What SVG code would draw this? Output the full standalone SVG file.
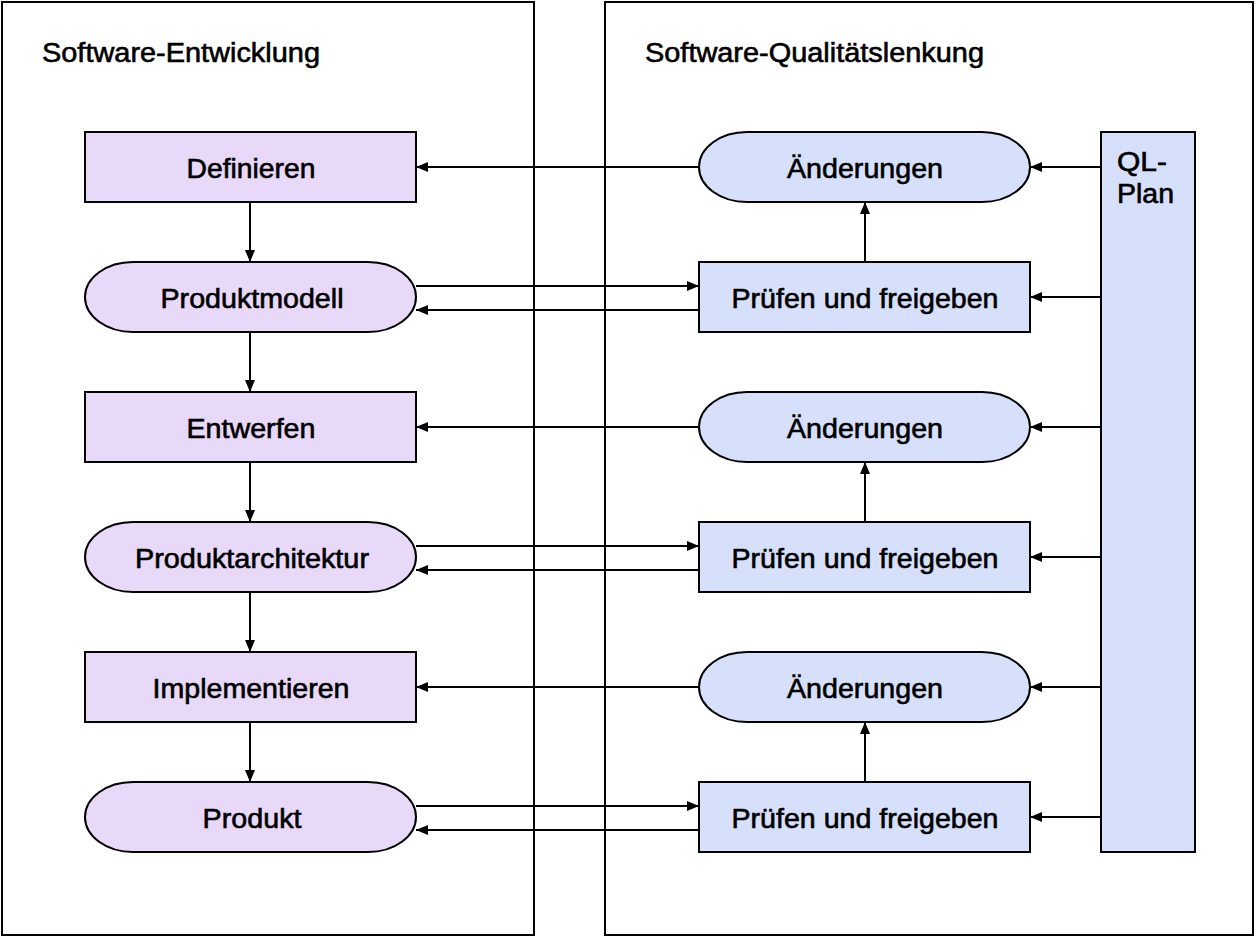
<svg xmlns="http://www.w3.org/2000/svg" width="1256" height="937" viewBox="0 0 1256 937">
<style>
.frame{fill:#fff;stroke:#000;stroke-width:2}
.l{fill:#E8D9F9;stroke:#000;stroke-width:2}
.r{fill:#D7E0FB;stroke:#000;stroke-width:2}
.t{font-family:"Liberation Sans",Arial,sans-serif;font-size:27px;fill:#000;stroke:#000;stroke-width:0.6}
.c{text-anchor:middle}
.cn line{stroke:#000;stroke-width:2;marker-end:url(#ah)}
</style>
<defs>
<marker id="ah" viewBox="0 0 12 10" refX="12" refY="5" markerWidth="12" markerHeight="10" markerUnits="userSpaceOnUse" orient="auto"><path d="M0,0L12,5L0,10z" fill="#000"/></marker>
</defs>
<rect width="1256" height="937" fill="#fff"/>
<g id="frame-left"><rect class="frame" x="2" y="2" width="532" height="933"/><text class="t" x="42" y="62" textLength="278" lengthAdjust="spacingAndGlyphs">Software-Entwicklung</text></g>
<g id="frame-right"><rect class="frame" x="605" y="2" width="648" height="933"/><text class="t" x="645" y="62" textLength="339" lengthAdjust="spacingAndGlyphs">Software-Qualitätslenkung</text></g>

<g id="definieren"><rect class="l" x="85" y="132" width="331" height="70"/><text class="t c" x="251" y="178" textLength="129" lengthAdjust="spacingAndGlyphs">Definieren</text></g>
<g id="produktmodell"><rect class="l" x="85" y="262" width="331" height="70" rx="48" ry="35"/><text class="t c" x="252" y="308" textLength="183" lengthAdjust="spacingAndGlyphs">Produktmodell</text></g>
<g id="entwerfen"><rect class="l" x="85" y="392" width="331" height="70"/><text class="t c" x="251" y="438" textLength="129" lengthAdjust="spacingAndGlyphs">Entwerfen</text></g>
<g id="produktarchitektur"><rect class="l" x="85" y="522" width="331" height="70" rx="48" ry="35"/><text class="t c" x="252" y="568" textLength="234" lengthAdjust="spacingAndGlyphs">Produktarchitektur</text></g>
<g id="implementieren"><rect class="l" x="85" y="652" width="331" height="70"/><text class="t c" x="251" y="698" textLength="197" lengthAdjust="spacingAndGlyphs">Implementieren</text></g>
<g id="produkt"><rect class="l" x="85" y="782" width="331" height="70" rx="48" ry="35"/><text class="t c" x="252" y="828" textLength="99" lengthAdjust="spacingAndGlyphs">Produkt</text></g>

<g id="aenderungen1"><rect class="r" x="699" y="132" width="331" height="70" rx="48" ry="35"/><text class="t c" x="865" y="178" textLength="156" lengthAdjust="spacingAndGlyphs">Änderungen</text></g>
<g id="pruefen1"><rect class="r" x="699" y="262" width="331" height="70"/><text class="t c" x="865" y="308" textLength="267" lengthAdjust="spacingAndGlyphs">Prüfen und freigeben</text></g>
<g id="aenderungen2"><rect class="r" x="699" y="392" width="331" height="70" rx="48" ry="35"/><text class="t c" x="865" y="438" textLength="156" lengthAdjust="spacingAndGlyphs">Änderungen</text></g>
<g id="pruefen2"><rect class="r" x="699" y="522" width="331" height="70"/><text class="t c" x="865" y="568" textLength="267" lengthAdjust="spacingAndGlyphs">Prüfen und freigeben</text></g>
<g id="aenderungen3"><rect class="r" x="699" y="652" width="331" height="70" rx="48" ry="35"/><text class="t c" x="865" y="698" textLength="156" lengthAdjust="spacingAndGlyphs">Änderungen</text></g>
<g id="pruefen3"><rect class="r" x="699" y="782" width="331" height="70"/><text class="t c" x="865" y="828" textLength="267" lengthAdjust="spacingAndGlyphs">Prüfen und freigeben</text></g>

<g id="ql-plan"><rect class="r" x="1101" y="132" width="94" height="720"/><text class="t" x="1117" y="171" textLength="50" lengthAdjust="spacingAndGlyphs">QL-</text><text class="t" x="1117" y="203" textLength="57" lengthAdjust="spacingAndGlyphs">Plan</text></g>

<g id="connectors" class="cn">
<line x1="250" y1="202" x2="250" y2="262"/>
<line x1="250" y1="332" x2="250" y2="392"/>
<line x1="250" y1="462" x2="250" y2="522"/>
<line x1="250" y1="592" x2="250" y2="652"/>
<line x1="250" y1="722" x2="250" y2="782"/>

<line x1="699" y1="167" x2="416" y2="167"/>
<line x1="699" y1="427" x2="416" y2="427"/>
<line x1="699" y1="687" x2="416" y2="687"/>

<line x1="416" y1="286" x2="699" y2="286"/>
<line x1="699" y1="310" x2="416" y2="310"/>
<line x1="416" y1="546" x2="699" y2="546"/>
<line x1="699" y1="570" x2="416" y2="570"/>
<line x1="416" y1="806" x2="699" y2="806"/>
<line x1="699" y1="830" x2="416" y2="830"/>

<line x1="865" y1="262" x2="865" y2="202"/>
<line x1="865" y1="522" x2="865" y2="462"/>
<line x1="865" y1="782" x2="865" y2="722"/>

<line x1="1101" y1="167" x2="1030" y2="167"/>
<line x1="1101" y1="297" x2="1030" y2="297"/>
<line x1="1101" y1="427" x2="1030" y2="427"/>
<line x1="1101" y1="557" x2="1030" y2="557"/>
<line x1="1101" y1="687" x2="1030" y2="687"/>
<line x1="1101" y1="817" x2="1030" y2="817"/>
</g>
</svg>
